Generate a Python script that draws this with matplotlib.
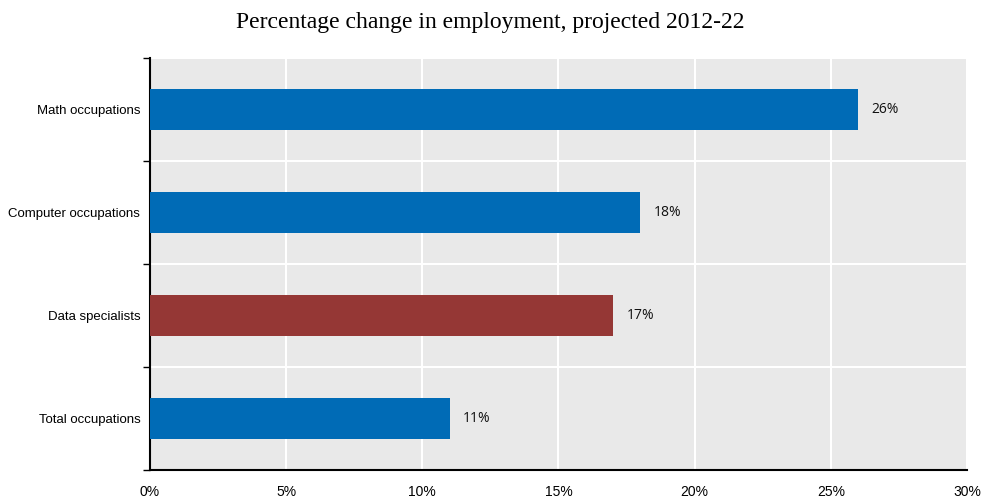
import matplotlib.pyplot as plt
import numpy as np
from matplotlib.ticker import FuncFormatter

categories = ["Math occupations", "Computer occupations", "Data specialists", "Total occupations"]
values = [26, 18, 17, 11]
colors = ["#006BB6", "#006BB6", "#953735", "#006BB6"]

fig = plt.figure(figsize=(9.81, 5), dpi=100)
ax = fig.add_axes([0.1529, 0.06, 0.8328, 0.824])
ax.set_facecolor("#E9E9E9")

# first category at the top
pos = np.arange(len(categories))[::-1]
ax.barh(pos, values, height=0.4, color=colors, zorder=3)

for p, v in zip(pos, values):
    ax.text(v + 0.5, p, f"{v}%", va="center", ha="left",
            fontsize=10, family="Open Sans", color="#111111", zorder=4)

ax.set_xlim(0, 30)
ax.set_ylim(-0.5, len(categories) - 0.5)
ax.set_xticks(np.arange(0, 31, 5))
ax.xaxis.set_major_formatter(FuncFormatter(lambda x, _: f"{x:.0f}%"))
ax.set_yticks(pos)
ax.set_yticklabels(categories)
ax.set_yticks(np.arange(-0.5, len(categories), 1), minor=True)

ax.tick_params(axis="x", length=0, pad=11, labelsize=10)
ax.tick_params(axis="y", which="major", length=0, pad=7, labelsize=9.5)
ax.tick_params(axis="y", which="minor", length=5, width=1, direction="out")
for lab in ax.get_xticklabels() + ax.get_yticklabels():
    lab.set_family("Liberation Sans")

ax.grid(axis="x", color="white", linewidth=1.5, zorder=1)
ax.grid(axis="y", which="minor", color="white", linewidth=1.5, zorder=1)
ax.grid(axis="y", which="major", visible=False)

for s in ["top", "right"]:
    ax.spines[s].set_visible(False)
ax.spines["left"].set_linewidth(1.5)
ax.spines["bottom"].set_linewidth(1.5)

fig.text(0.5, 0.955, "Percentage change in employment, projected 2012-22",
         family="Liberation Serif", fontsize=17, ha="center", va="center")

fig.savefig("out.png", dpi=100)
